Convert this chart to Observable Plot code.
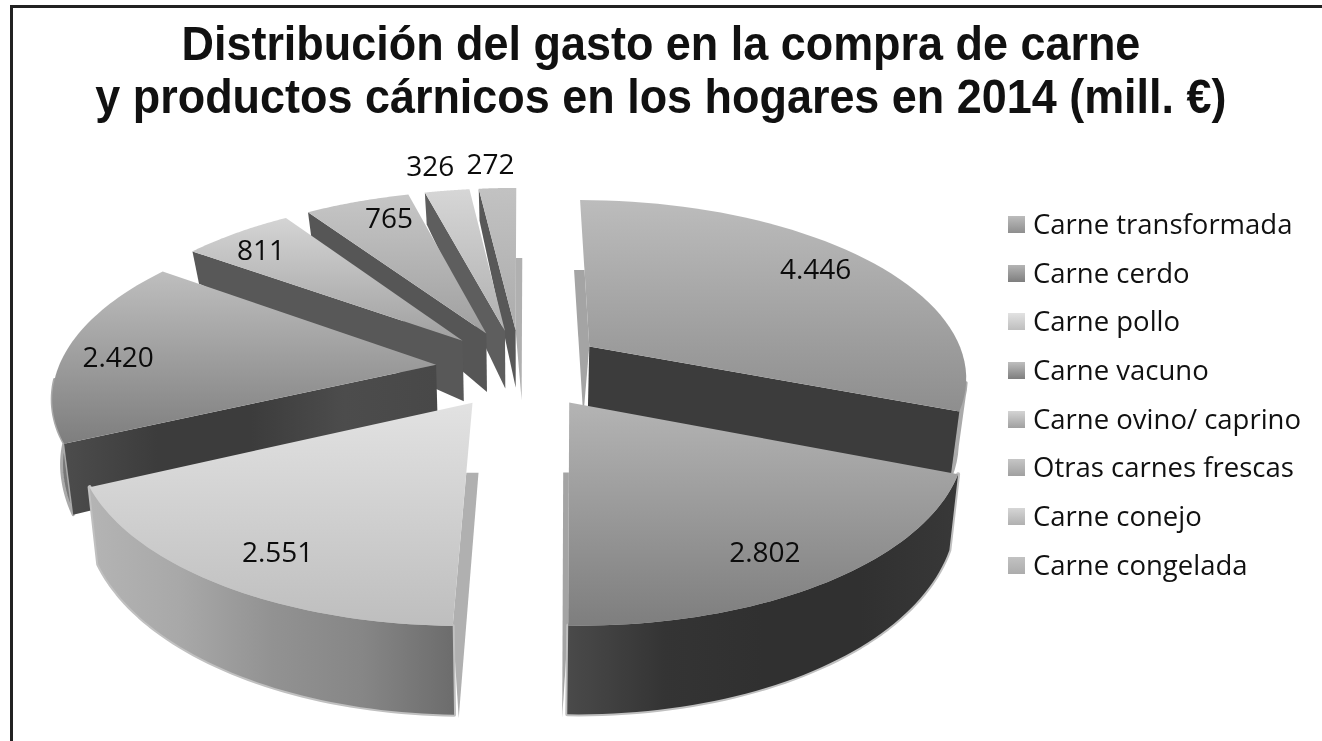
<!DOCTYPE html>
<html lang="es"><head><meta charset="utf-8">
<script src="https://cdn.jsdelivr.net/npm/d3@7"></script>
<script src="https://cdn.jsdelivr.net/npm/@observablehq/plot@0.6"></script>
<style>
html,body{margin:0;padding:0;background:#fff;overflow:hidden}
#page{position:relative;width:1322px;height:741px;background:#fff}
#frame{position:absolute;left:10px;top:5px;width:1312px;height:736px;border-top:3px solid #222;border-left:3px solid #222;box-sizing:border-box}
#blurred{position:absolute;left:0;top:0;width:1322px;height:741px;filter:blur(0.55px)}
#title{position:absolute;left:0;top:17px;width:1322px;text-align:center;font:700 49px/53px "Liberation Sans",sans-serif;color:#111;margin:0;transform:scaleX(0.917);transform-origin:660px 0}
#chart{position:absolute;left:0;top:0}
#legend{position:absolute;left:1008px;top:200px;font:27.5px/48.7px "Open Sans",sans-serif;color:#111}
#legend div{display:flex;align-items:center;height:48.7px;white-space:nowrap}
#legend i{display:block;width:17px;height:17px;margin-right:8px}
</style></head><body>
<div id="page"><div id="frame"></div>
<div id="blurred">
<div id="chart"></div>
<h1 id="title">Distribución del gasto en la compra de carne<br>y productos cárnicos en los hogares en 2014 (mill. €)</h1>
<div id="legend"></div></div></div>
<script>
const categories=["Carne transformada","Carne cerdo","Carne pollo","Carne vacuno","Carne ovino/ caprino","Otras carnes frescas","Carne conejo","Carne congelada"];
const values=[4446,2802,2551,2420,811,765,326,272];
const valueLabels=["4.446","2.802","2.551","2.420","811","765","326","272"];
const topLight=["#bcbcbc","#b4b4b4","#e2e2e2","#bebebe","#d4d4d4","#c6c6c6","#d6d6d6","#c2c2c2"];
const topDark=["#8e8e8e","#7e7e7e","#bebebe","#7e7e7e","#a0a0a0","#a0a0a0","#b0b0b0","#acacac"];
const wallColor=["#3c3c3c","#333333","#8a8a8a","#3e3e3e","#585858","#565656","#5e5e5e","#585858"];
const drawOrder=[7,6,5,4,0,3,1,2];

// perspective view of the exploded pie
const W=1322,H=741,cx=520,cy=368,Rx=378,Ry=176,k=0.158,explode=0.225;
const project=(X,Y)=>{const s=1/(1-k*Y);return [cx+Rx*X*s,cy+Ry*Y*s];};
const wallH=d3.scaleLinear().domain([-0.75,-0.15,0.25,0.55,1.25]).range([32,61,66,76,90]).clamp(true);
const arcs=d3.pie().sort(null).value(d=>d)(values);
const disc=(a,mid,r)=>[explode*Math.sin(mid)+r*Math.sin(a),-explode*Math.cos(mid)-r*Math.cos(a)];
const top3=([X,Y])=>project(X,Y);
const bottom=([X,Y])=>{const [x,y]=project(X,Y);return [cx+(x-cx)*0.98,y+wallH(Y)];};
const arcPts=(a0,a1,mid,n=48)=>d3.range(n+1).map(i=>disc(a0+(a1-a0)*i/n,mid,1));

const marks=[];
const poly=(pts,fill,extra={})=>marks.push(Plot.line(pts,{x:d=>d[0],y:d=>d[1],fill,stroke:"none",curve:"linear-closed",...extra}));

// gradients
const defs=()=>{
  const d=d3.create("svg:defs");
  const grad=(id,stops,h)=>{const g=d.append("linearGradient").attr("id",id).attr("x1",0).attr("y1",0).attr("x2",h?1:0).attr("y2",h?0:1);
    stops.forEach((c,i)=>g.append("stop").attr("offset",i/(stops.length-1)).attr("stop-color",c));};
  values.forEach((_,i)=>grad("top"+i,[topLight[i],topDark[i]]));
  grad("wallRim3",["#b4b4b4","#a8a8a8","#929292","#868686","#6c6c6c"],true);
  grad("wallRim2",["#4a4a4a","#343434","#303030","#303030","#383838"],true);
  grad("wall4",["#4c4c4c","#3c3c3c","#3c3c3c","#4c4c4c","#484848"],true);
  return d.node();
};
marks.push(defs);

drawOrder.forEach(i=>{
  const {startAngle:a0,endAngle:a1}=arcs[i];const mid=(a0+a1)/2;
  const apex=disc(0,mid,0),o0=disc(a0,mid,1),o1=disc(a1,mid,1);
  // pale inner face seen through the gap: only its lower part shows
  const side=(o,dir,c)=>{
    const pA=top3(apex),pO=top3(o),hA=70,hO=o[1]>0?92:70;
    const [u,hU,l,hL]=pA[1]<pO[1]?[pA,hA,pO,hO]:[pO,hO,pA,hA];
    const yS=u[1]+hU,t=(yS-u[1])/(l[1]-u[1]),onEdge=[u[0]+(l[0]-u[0])*t,yS];
    poly([onEdge,l,[l[0]+dir*6,l[1]+hL],[u[0]+dir*6,yS]],c);
  };
  if(i===0) side(o0,-1,"#a4a4a4");
  if(i===1) side(o1,-1,"#a4a4a4");
  if(i===2) side(o0,1,"#b0b0b0");
  if(i===7) side(o1,1,"#b0b0b0");
  // soft rim
  const rim=arcPts(a0,a1,mid);
  const front=rim.filter(p=>p[1]>0.05);
  if(front.length>2 && (i===1||i===2)){
    const ring=front.map(top3).concat(front.map(bottom).reverse());
    poly(ring,"#c0c0c0",{stroke:"#c0c0c0",strokeWidth:4});
    poly(ring,i===1?"url(#wallRim2)":"url(#wallRim3)");
  }
  // radial wall facing the viewer
  const edge=(i===0)?o1:o0;
  if(i===0||i>=3){
    if(i===0||i===3) {
      const s=rim.filter(p=>p[1]>0.05);
      if(s.length>2) poly(s.map(top3).concat(s.map(bottom).reverse()),"#777777",{stroke:"#aaaaaa",strokeWidth:3});
    }
    poly([top3(apex),top3(edge),bottom(edge),bottom(apex)],i===3?"url(#wall4)":wallColor[i]);
  }
  // top face
  poly([top3(apex),...rim.map(top3)],`url(#top${i})`);
});

// value labels, sitting on each slice's bisector; the two smallest stand outside the rim
const nudge=[[-3,-3],[-10,7],[8,6],[-15,6],[-13,0],[11,-4],[-7,0],[-4,1]];
const labels=arcs.map((a,i)=>{const mid=(a.startAngle+a.endAngle)/2;const share=(a.endAngle-a.startAngle)/(2*Math.PI);
  const [x,y]=top3(disc(mid,mid,share<0.03?1.2:0.82));return {x:x+nudge[i][0],y:y+nudge[i][1],t:valueLabels[i]};});
marks.push(Plot.text(labels,{x:"x",y:"y",text:"t",fontSize:28,fontFamily:"Open Sans, sans-serif",fill:"#0c0c0c",stroke:"none"}));

const chart=Plot.plot({width:W,height:H,margin:0,style:{background:"transparent",overflow:"visible"},
  x:{domain:[0,W],range:[0,W],axis:null},y:{domain:[0,H],range:[0,H],axis:null},marks});
document.getElementById("chart").append(chart);

const legend=d3.select("#legend");
categories.forEach((c,i)=>{const r=legend.append("div");
  r.append("i").style("background",`linear-gradient(${topLight[i]},${topDark[i]})`);
  r.append("span").text(c);});
</script></body></html>
